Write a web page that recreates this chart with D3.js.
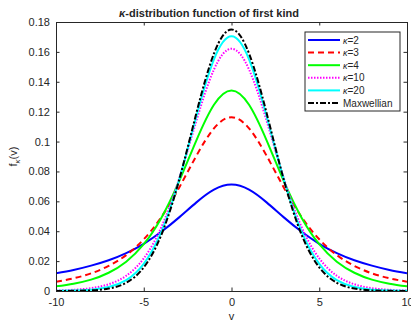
<!DOCTYPE html>
<html lang="en">
<head>
<meta charset="utf-8">
<title>kappa distribution</title>
<script src="https://cdn.jsdelivr.net/npm/d3@7"></script>
<style>
  body { margin: 0; background: #fff; }
  text { font-family: "Liberation Sans", Arial, sans-serif; fill: #262626; }
</style>
</head>
<body>
<script>
// values, v = -10 .. 10
var vGrid = [-10,-9,-8,-7,-6,-5,-4,-3,-2,-1,0,1,2,3,4,5,6,7,8,9,10];
var kappa2 = [0.0119,0.0141,0.0170,0.0206,0.0254,0.0316,0.0396,0.0491,0.0593,0.0678,0.0712,0.0678,0.0593,0.0491,0.0396,0.0316,0.0254,0.0206,0.0170,0.0141,0.0119];
var kappa3 = [0.0062,0.0085,0.0118,0.0168,0.0240,0.0346,0.0494,0.0688,0.0905,0.1088,0.1163,0.1088,0.0905,0.0688,0.0494,0.0346,0.0240,0.0168,0.0118,0.0085,0.0062];
var kappa4 = [0.0031,0.0049,0.0076,0.0122,0.0196,0.0313,0.0489,0.0730,0.1008,0.1246,0.1342,0.1246,0.1008,0.0730,0.0489,0.0313,0.0196,0.0122,0.0076,0.0049,0.0031];
var kappa10 = [0.0003,0.0008,0.0019,0.0045,0.0102,0.0218,0.0426,0.0746,0.1139,0.1482,0.1621,0.1482,0.1139,0.0746,0.0426,0.0218,0.0102,0.0045,0.0019,0.0008,0.0003];
var kappa20 = [0.0001,0.0003,0.0009,0.0027,0.0073,0.0182,0.0395,0.0738,0.1170,0.1550,0.1704,0.1550,0.1170,0.0738,0.0395,0.0182,0.0073,0.0027,0.0009,0.0003,0.0001];
var maxwell = [0.0000,0.0001,0.0004,0.0016,0.0055,0.0158,0.0375,0.0736,0.1191,0.1589,0.1750,0.1589,0.1191,0.0736,0.0375,0.0158,0.0055,0.0016,0.0004,0.0001,0.0000];

var xTicks = [-10,-5,0,5,10];
var yTicks = [0,0.02,0.04,0.06,0.08,0.1,0.12,0.14,0.16,0.18];
var legendLabels = ["2","3","4","10","20","Maxwellian"];

var w = 411, h = 320;
var mLeft = 56, mRight = 407, mTop = 22, mBottom = 291;

var xScale = d3.scaleLinear().domain([-10,10]).range([mLeft,mRight]);
var yScale = d3.scaleLinear().domain([0,0.18]).range([mBottom,mTop]);

var svg = d3.select("body").append("svg")
    .attr("width", w)
    .attr("height", h);

svg.append("defs").append("clipPath").attr("id","plotclip")
  .append("rect")
    .attr("x", mLeft).attr("y", mTop)
    .attr("width", mRight-mLeft).attr("height", mBottom-mTop);

// series styling
var series = [
  {vals: kappa2,  color: "#0000ff", dash: null},
  {vals: kappa3,  color: "#ff0000", dash: "6,4"},
  {vals: kappa4,  color: "#00ff00", dash: null},
  {vals: kappa10, color: "#ff00ff", dash: "1.5,1.5"},
  {vals: kappa20, color: "#00ffff", dash: null},
  {vals: maxwell, color: "#000000", dash: "6,2,2,2"}
];

var line = d3.line()
  .x(function(d, i) { return xScale(vGrid[i]); })
  .y(function(d) { return yScale(d); })
  .curve(d3.curveNatural);

var plot = svg.append("g").attr("clip-path","url(#plotclip)");
series.forEach(function(s) {
  plot.append("path")
    .attr("d", line(s.vals))
    .attr("fill","none")
    .attr("stroke", s.color)
    .attr("stroke-width", 2)
    .attr("stroke-dasharray", s.dash);
});

// axes, MATLAB style ticks pointing in
function plain(d) { return String(+d.toFixed(2)); }
var xAxis = d3.axisBottom(xScale).tickValues(xTicks).tickSizeInner(-3.5).tickSizeOuter(0).tickPadding(7).tickFormat(plain);
var xAxisTop = d3.axisTop(xScale).tickValues(xTicks).tickSizeInner(-3.5).tickSizeOuter(0).tickFormat("");
var yAxis = d3.axisLeft(yScale).tickValues(yTicks).tickSizeInner(-3.5).tickSizeOuter(0).tickPadding(6).tickFormat(plain);
var yAxisRight = d3.axisRight(yScale).tickValues(yTicks).tickSizeInner(-3.5).tickSizeOuter(0).tickFormat("");

function styleAxis(g) {
  g.select(".domain").attr("stroke","#262626").attr("stroke-width",1);
  g.selectAll(".tick line").attr("stroke","#262626").attr("stroke-width",1);
  g.selectAll(".tick text").attr("font-size","11px").attr("fill","#262626")
    .style("font-family","'Liberation Sans', Arial, sans-serif");
}

svg.append("g").attr("transform","translate(0,"+mBottom+")").call(xAxis).call(styleAxis);
svg.append("g").attr("transform","translate(0,"+mTop+")").call(xAxisTop).call(styleAxis);
svg.append("g").attr("transform","translate("+mLeft+",0)").call(yAxis).call(styleAxis);
svg.append("g").attr("transform","translate("+mRight+",0)").call(yAxisRight).call(styleAxis);

// title
var title = svg.append("text")
  .attr("x", 209).attr("y", 16.5)
  .attr("text-anchor","middle")
  .attr("font-size","11px")
  .attr("font-weight","bold")
  .attr("fill","#000");
title.append("tspan").attr("font-style","italic").text("\u03ba");
title.append("tspan").text("-distribution function of first kind");

// axis labels
svg.append("text")
  .attr("x", (mLeft+mRight)/2).attr("y", 320)
  .attr("text-anchor","middle")
  .attr("font-size","11px")
  .text("v");

var ylab = svg.append("text")
  .attr("transform","translate(17,"+((mTop+mBottom)/2)+") rotate(-90)")
  .attr("text-anchor","middle")
  .attr("font-size","11px");
ylab.append("tspan").text("f");
ylab.append("tspan").attr("font-size","8px").attr("font-style","italic").attr("dy",3).text("\u03ba");
ylab.append("tspan").attr("dy",-3).text("(v)");

// legend
var lg = svg.append("g").attr("transform","translate(305,32)");
lg.append("rect")
  .attr("width", 95).attr("height", 79)
  .attr("fill","#fff")
  .attr("stroke","#262626")
  .attr("stroke-width",1);

series.forEach(function(s, i) {
  var yy = 8 + i*12.6;
  lg.append("line")
    .attr("x1", 3).attr("x2", 35)
    .attr("y1", yy).attr("y2", yy)
    .attr("stroke", s.color)
    .attr("stroke-width", 2)
    .attr("stroke-dasharray", s.dash);
  var t = lg.append("text")
    .attr("x", 38).attr("y", yy+3.5)
    .attr("font-size","10px")
    .attr("fill","#000");
  if (legendLabels[i] === "Maxwellian") {
    t.text(legendLabels[i]);
  } else {
    t.append("tspan").attr("font-style","italic").attr("font-size","9px").text("\u03ba");
    t.append("tspan").text("=" + legendLabels[i]);
  }
});
</script>
</body>
</html>
